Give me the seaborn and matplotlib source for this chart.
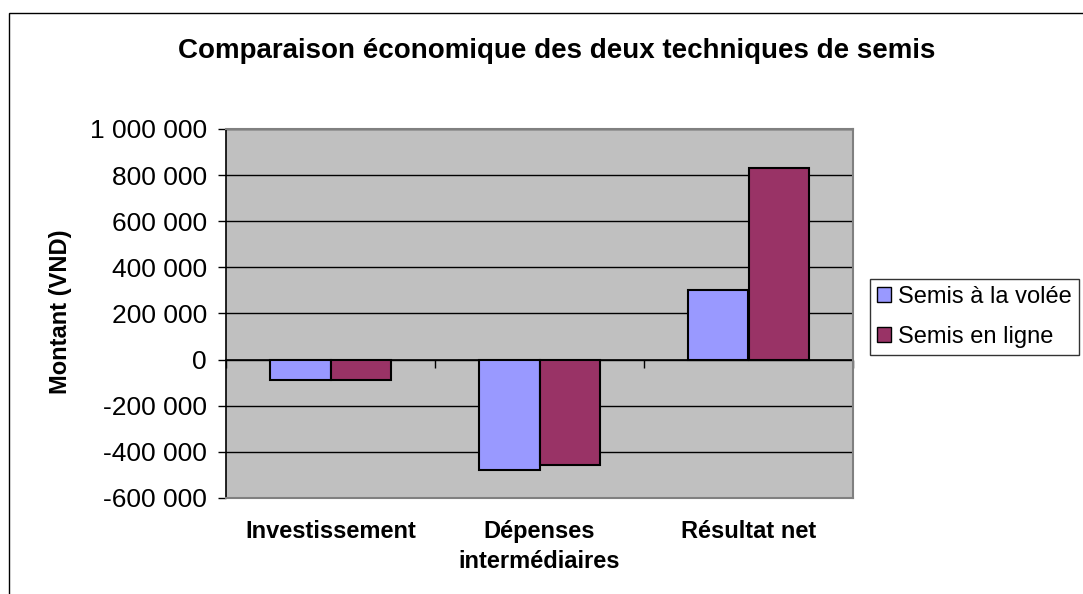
import matplotlib
matplotlib.use("Agg")
import matplotlib.pyplot as plt
from matplotlib.patches import Rectangle
from matplotlib.ticker import FuncFormatter, FixedLocator
import pandas as pd
import seaborn as sns

# data
categories = ["Investissement", "Dépenses\nintermédiaires", "Résultat net"]
series = ["Semis à la volée", "Semis en ligne"]
volee = [-90000, -480000, 300000]
ligne = [-90000, -457000, 832000]
colors = ["#9999FF", "#993366"]

df = pd.DataFrame({
    "cat": categories * 2,
    "serie": [series[0]] * 3 + [series[1]] * 3,
    "val": volee + ligne,
})

sns.set_style("white")
plt.rcParams["font.family"] = ["Liberation Sans", "DejaVu Sans"]
for k in ["text.color", "axes.labelcolor", "xtick.color", "ytick.color"]:
    plt.rcParams[k] = "black"

fig = plt.figure(figsize=(10.83, 5.94), dpi=100)
ax = fig.add_axes([226 / 1083, 1 - 498 / 594, (853 - 226) / 1083, (498 - 129) / 594])
ax.set_facecolor("#C0C0C0")

sns.barplot(data=df, x="cat", y="val", hue="serie", palette=colors,
            width=0.575, edgecolor="black", linewidth=1.5, saturation=1,
            ax=ax, zorder=3)

ax.set_ylim(-600000, 1000000)
ax.set_xlim(-0.5, 2.5)
ax.yaxis.set_major_locator(FixedLocator(range(-600000, 1000001, 200000)))
ax.yaxis.set_major_formatter(FuncFormatter(lambda v, p: "{:,.0f}".format(v).replace(",", " ")))
ax.grid(axis="y", color="black", linewidth=1, zorder=1)
ax.set_axisbelow(True)
ax.tick_params(axis="y", direction="out", length=5.8, width=1, color="black",
               labelsize=19, pad=8, left=True)
ax.tick_params(axis="x", length=0, labelsize=17, pad=16)
for lab in ax.get_xticklabels():
    lab.set_fontweight("bold")
    lab.set_linespacing(1.35)
    lab.set_va("top")

ax.set_xlabel("")
ax.set_ylabel("")
fig.text(60 / 1083, 1 - 312 / 594, "Montant (VND)", rotation=90,
         ha="center", va="center", fontsize=17, fontweight="bold")

for s in ["top", "right", "bottom"]:
    ax.spines[s].set_color("#808080")
    ax.spines[s].set_linewidth(1.5)
ax.spines["left"].set_color("black")
ax.spines["left"].set_linewidth(1.2)

# x axis line at zero with tick marks between categories
sec = ax.secondary_xaxis(600000 / 1600000)
sec.set_xticks([])
sec.xaxis.set_minor_locator(FixedLocator([-0.5, 0.5, 1.5, 2.5]))
sec.tick_params(which="minor", direction="out", length=5.8, width=1, color="black")
sec.spines["bottom"].set_color("black")
sec.spines["bottom"].set_linewidth(1.2)

fig.text(557 / 1083, 1 - 58 / 594, "Comparaison économique des deux techniques de semis",
         ha="center", va="baseline", fontsize=20, fontweight="bold")

leg = ax.legend(loc="upper left", bbox_to_anchor=(870 / 1083, 1 - 279 / 594),
                bbox_transform=fig.transFigure, frameon=True, fancybox=False,
                fontsize=17, handlelength=0.6, handleheight=0.6, handletextpad=0.3,
                borderpad=0.3, labelspacing=0.75, borderaxespad=0)
leg.get_frame().set_edgecolor("black")
leg.get_frame().set_linewidth(1)
for h in leg.legend_handles:
    h.set_edgecolor("black")
    h.set_linewidth(1)

fig.patches.append(Rectangle((9 / 1083, -0.1), 1.2, 1 - 13 / 594 + 0.1,
                             transform=fig.transFigure, fill=False,
                             edgecolor="black", linewidth=1))

fig.savefig("out.png", dpi=100)
